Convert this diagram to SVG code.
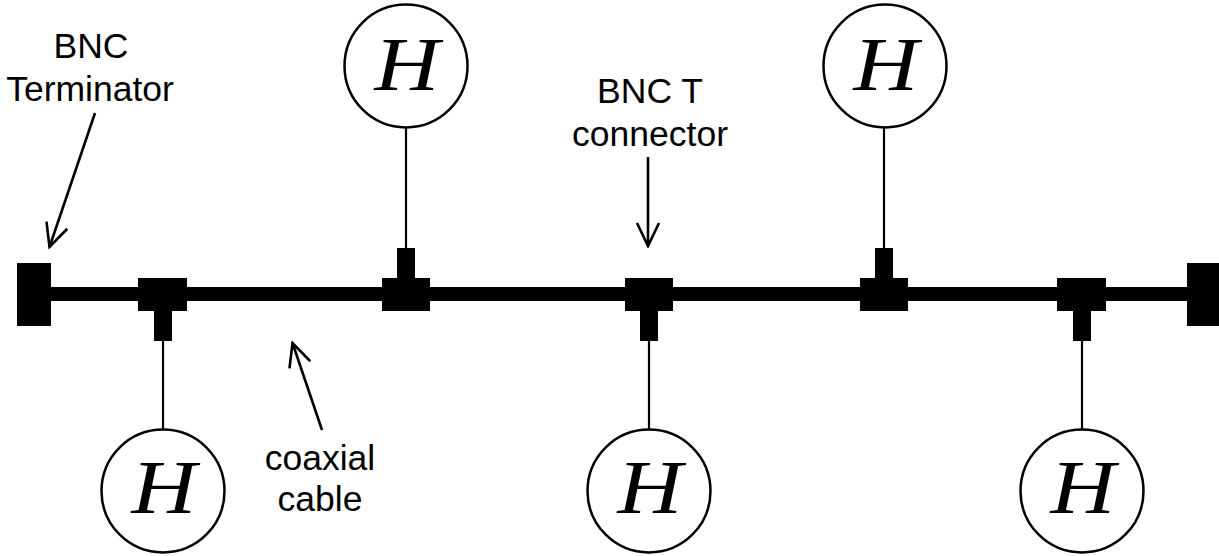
<svg xmlns="http://www.w3.org/2000/svg" width="1219" height="556" viewBox="0 0 1219 556">
<style>
.host circle{fill:#fff;stroke:#000;stroke-width:2.5}
.host text{font-family:"Liberation Serif",serif;font-style:italic;font-size:76px;text-anchor:middle;fill:#000}
.lbl{font-family:"Liberation Sans",Arial,sans-serif;font-size:35.5px;text-anchor:middle;fill:#000}
.blk{fill:#000}
.drop{stroke:#000;stroke-width:2.2;fill:none}
.arrow{stroke:#000;stroke-width:2.6;fill:none;marker-end:url(#ah)}
</style>
<defs>
<marker id="ah" viewBox="-28 -14 30 28" markerWidth="30" markerHeight="28" refX="0" refY="0" orient="auto" markerUnits="userSpaceOnUse">
<path d="M-23,-11 L0,0 L-23,11" fill="none" stroke="#000" stroke-width="2.6"/>
</marker>
</defs>
<rect width="1219" height="556" fill="#fff"/>
<g id="connectors">
<rect id="cable" class="blk" x="50" y="287" width="1140" height="14"/>
<line class="drop" x1="163" y1="340" x2="163" y2="430"/>
<line class="drop" x1="406" y1="128" x2="406" y2="249"/>
<line class="drop" x1="649" y1="340" x2="649" y2="430"/>
<line class="drop" x1="884" y1="128" x2="884" y2="249"/>
<line class="drop" x1="1082" y1="340" x2="1082" y2="430"/>
<line class="arrow" x1="95" y1="113" x2="49.5" y2="247"/>
<line class="arrow" x1="648" y1="157" x2="648" y2="246"/>
<line class="arrow" x1="322" y1="430" x2="292.5" y2="343"/>
</g>
<g id="terminator-left"><rect class="blk" x="17" y="263" width="34" height="63"/></g>
<g id="terminator-right"><rect class="blk" x="1187" y="263" width="34" height="63"/></g>
<g id="t1"><rect class="blk" x="138" y="278" width="49" height="33"/><rect class="blk" x="154" y="310" width="18" height="31"/></g>
<g id="t2"><rect class="blk" x="382" y="278" width="48" height="33"/><rect class="blk" x="397" y="248" width="18" height="31"/></g>
<g id="t3"><rect class="blk" x="625" y="278" width="48" height="33"/><rect class="blk" x="640" y="310" width="18" height="31"/></g>
<g id="t4"><rect class="blk" x="860" y="278" width="48" height="33"/><rect class="blk" x="875" y="248" width="18" height="31"/></g>
<g id="t5"><rect class="blk" x="1057" y="278" width="49" height="33"/><rect class="blk" x="1073" y="310" width="18" height="31"/></g>
<g id="host1" class="host"><circle cx="163" cy="491" r="61.5"/><text transform="translate(164,513) scale(1.18,1)">H</text></g>
<g id="host2" class="host"><circle cx="406" cy="66" r="61.5"/><text transform="translate(407,90) scale(1.18,1)">H</text></g>
<g id="host3" class="host"><circle cx="649" cy="491" r="61.5"/><text transform="translate(650,513) scale(1.18,1)">H</text></g>
<g id="host4" class="host"><circle cx="885" cy="66" r="61.5"/><text transform="translate(886,90) scale(1.18,1)">H</text></g>
<g id="host5" class="host"><circle cx="1082" cy="491" r="61.5"/><text transform="translate(1083,513) scale(1.18,1)">H</text></g>
<g id="label-terminator"><text class="lbl" x="91" y="58">BNC</text><text class="lbl" x="90" y="101">Terminator</text></g>
<g id="label-tconnector"><text class="lbl" x="650" y="103">BNC T</text><text class="lbl" x="650" y="146">connector</text></g>
<g id="label-cable"><text class="lbl" x="320" y="470">coaxial</text><text class="lbl" x="320" y="511">cable</text></g>
</svg>
